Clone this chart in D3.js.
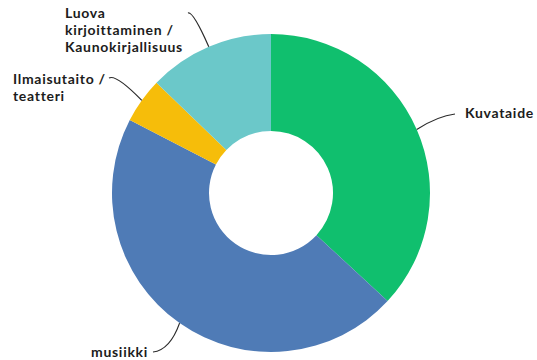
<!DOCTYPE html>
<html>
<head>
<meta charset="utf-8">
<script src="https://cdn.jsdelivr.net/npm/d3@7"></script>
<style>
  html, body { margin: 0; padding: 0; background: #fff; }
  svg { display: block; }
  text { font-family: Lato, sans-serif; font-weight: 700; font-size: 14px; letter-spacing: 0.7px; fill: #1c1c1c; }
</style>
</head>
<body>
<svg id="chart" width="537" height="360"></svg>
<script>
// Share of each art form (%), clockwise from 12 o'clock
const categories = ["Kuvataide", "musiikki", "Ilmaisutaito / teatteri", "Luova kirjoittaminen / Kaunokirjallisuus"];
const shares = [36.9, 45.7, 4.6, 12.8];
const colors = ["#10bf6e", "#4f7bb6", "#f6bd0a", "#6bc8c9"];

// Label text lines per category
const labelLines = [
  ["Kuvataide"],
  ["musiikki"],
  ["Ilmaisutaito /", "teatteri"],
  ["Luova", "kirjoittaminen /", "Kaunokirjallisuus"]
];

// Label placement: text anchor, leader end point and curve control point
const labelLayout = [
  { tx: 465, ty: 118, end: [455, 114], ctrl: [438, 116] },
  { tx: 91,  ty: 357, end: [153, 352], ctrl: [170, 350] },
  { tx: 13,  ty: 84,  end: [109, 78],  ctrl: [116, 74] },
  { tx: 65,  ty: 18,  end: [188, 13],  ctrl: [193, 11] }
];

const width = 537, height = 360;
const cx = 271, cy = 193;
const outerR = 159, innerR = 62;
const lineH = 17;

const svg = d3.select("#chart");
const g = svg.append("g").attr("transform", `translate(${cx},${cy})`);

const pie = d3.pie().sort(null).value(d => d)(shares);
const arc = d3.arc().innerRadius(innerR).outerRadius(outerR);

g.selectAll("path.slice")
  .data(pie)
  .join("path")
  .attr("class", "slice")
  .attr("d", arc)
  .attr("fill", (d, i) => colors[i]);

// Leader lines from the middle of each slice's outer edge
const leaders = svg.append("g");
pie.forEach((d, i) => {
  const a = (d.startAngle + d.endAngle) / 2;
  const sx = cx + Math.sin(a) * outerR;
  const sy = cy - Math.cos(a) * outerR;
  const L = labelLayout[i];
  const p = d3.path();
  p.moveTo(sx, sy);
  p.quadraticCurveTo(L.ctrl[0], L.ctrl[1], L.end[0], L.end[1]);
  leaders.append("path")
    .attr("d", p.toString())
    .attr("fill", "none")
    .attr("stroke", "#2b2b2b")
    .attr("stroke-width", 1.2);
});

// Labels
const labels = svg.append("g");
labelLines.forEach((lines, i) => {
  const L = labelLayout[i];
  const t = labels.append("text").attr("x", L.tx).attr("y", L.ty);
  lines.forEach((s, j) => {
    t.append("tspan").attr("x", L.tx).attr("y", L.ty + j * lineH).text(s);
  });
});
</script>
</body>
</html>
